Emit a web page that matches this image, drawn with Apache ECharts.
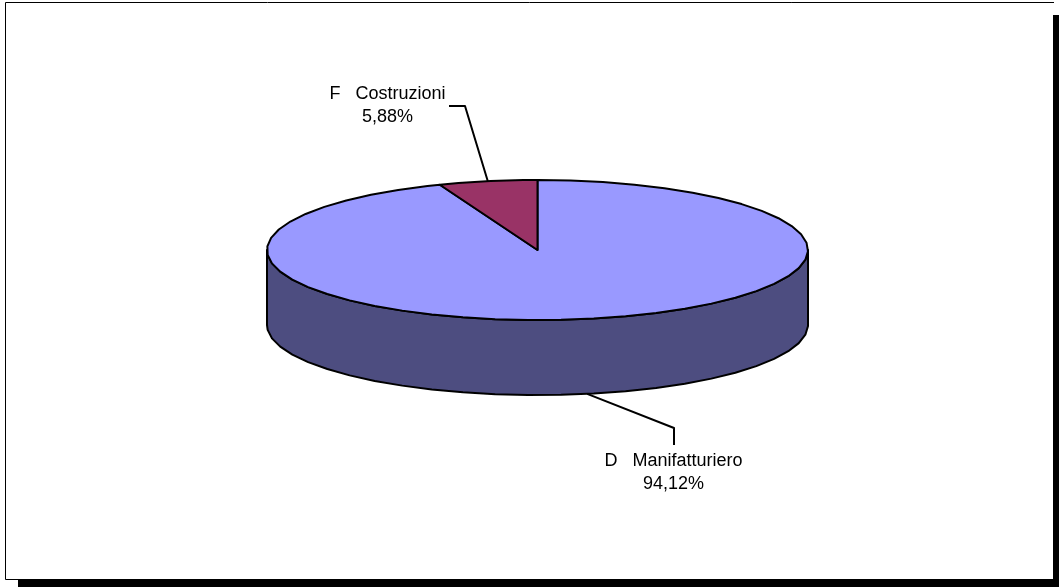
<!DOCTYPE html>
<html>
<head>
<meta charset="utf-8">
<style>html,body{margin:0;padding:0;background:#fff}#c{width:1059px;height:587px}</style>
<script src="https://cdn.jsdelivr.net/npm/echarts@6/dist/echarts.min.js"></script>
</head>
<body>
<div id="c"></div>
<script>
const categories = ['D   Manifatturiero', 'F   Costruzioni'];
const values = [94.12, 5.88];
const topColors = ['#9999FF', '#993366'];
const wallColor = '#4D4D80';

const CX = 537.5, CY = 250, RX = 270.5, RY = 70, DEPTH = 75, STEP = 7;
const total = values.reduce((a, b) => a + b, 0);
const pt = (deg, dy) => {
  const r = deg * Math.PI / 180;
  return [CX + RX * Math.sin(r), CY - RY * Math.cos(r) + (dy || 0)];
};
const arc = (a, b, dy) => {
  const out = [];
  const first = Math.ceil(a / STEP) * STEP;
  out.push(pt(a, dy));
  for (let d = first; d < b; d += STEP) if (d > a) out.push(pt(d, dy));
  out.push(pt(b, dy));
  return out;
};
const pct = v => v.toFixed(2).replace('.', ',') + '%';
const stroke = { stroke: '#000', lineWidth: 2, lineJoin: 'round' };
const labelFont = { fontFamily: 'Liberation Sans, Arial, sans-serif', fontSize: 18, fill: '#000', textAlign: 'center', textVerticalAlign: 'middle' };
const leaders = [
  { elbow: [674, 428], end: [674, 445], dy: DEPTH, text: [673.5, 461] },
  { elbow: [465, 106], end: [449, 106], dy: 0, text: [387.5, 94] }
];

function renderItem(params, api) {
  const i = params.dataIndex;
  const before = values.slice(0, i).reduce((a, b) => a + b, 0);
  const a0 = before / total * 360;
  const a1 = a0 + api.value(0) / total * 360;
  const kids = [];
  const wa = Math.max(a0, 90), wb = Math.min(a1, 270);
  if (wb > wa) {
    const pts = arc(wa, wb, 0).concat(arc(wa, wb, DEPTH).reverse());
    kids.push({ type: 'polygon', shape: { points: pts }, style: Object.assign({ fill: wallColor }, stroke) });
  }
  kids.push({
    type: 'polygon',
    shape: { points: [[CX, CY]].concat(arc(a0, a1, 0)) },
    style: Object.assign({ fill: topColors[i] }, stroke)
  });
  const l = leaders[i];
  const mid = (a0 + a1) / 2;
  kids.push({ type: 'polyline', shape: { points: [pt(mid, l.dy), l.elbow, l.end] }, style: Object.assign({ fill: null }, stroke) });
  kids.push({ type: 'text', style: Object.assign({ x: l.text[0], y: l.text[1], text: categories[i] }, labelFont) });
  kids.push({ type: 'text', style: Object.assign({ x: l.text[0], y: l.text[1] + 23, text: pct(api.value(0)) }, labelFont) });
  return { type: 'group', children: kids };
}

const chart = echarts.init(document.getElementById('c'), null, { renderer: 'canvas' });
chart.setOption({
  animation: false,
  backgroundColor: '#fff',
  graphic: [
    { type: 'rect', z: 0, silent: true, shape: { x: 1053, y: 15, width: 6, height: 572 }, style: { fill: '#000' } },
    { type: 'rect', z: 0, silent: true, shape: { x: 18, y: 579, width: 1041, height: 8 }, style: { fill: '#000' } },
    { type: 'polyline', z: 1, silent: true, shape: { points: [[5.5, 579.5], [5.5, 2.5], [1054, 2.5]] }, style: { fill: null, stroke: '#000', lineWidth: 1 } },
    { type: 'polyline', z: 1, silent: true, shape: { points: [[5.5, 579.5], [18, 579.5]] }, style: { fill: null, stroke: '#000', lineWidth: 1 } }
  ],
  series: [{
    type: 'custom',
    coordinateSystem: 'none',
    silent: true,
    z: 5,
    data: values.map(v => [v]),
    renderItem: renderItem
  }]
});
</script>
</body>
</html>
